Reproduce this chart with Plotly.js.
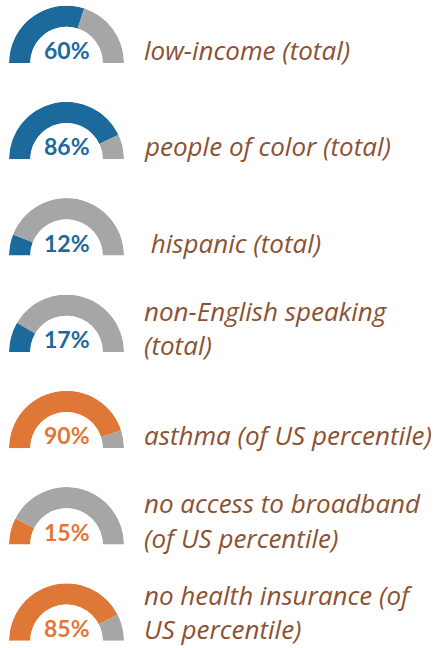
<!DOCTYPE html>
<html>
<head>
<meta charset="utf-8">
<script src="https://cdn.plot.ly/plotly-3.0.1.min.js"></script>
<style>html,body{margin:0;padding:0;background:#fff;}#chart{width:436px;height:648px;}</style>
</head>
<body>
<div id="chart"></div>
<script>
// ---- data ----
const categories = [
  'low-income (total)',
  'people of color (total)',
  ' hispanic (total)',
  'non-English speaking<br>(total)',
  'asthma (of US percentile)',
  'no access to broadband<br>(of US percentile)',
  'no health insurance (of<br>US percentile)'
];
const values = [60, 86, 12, 17, 90, 15, 85];
const groups = ['demographic', 'demographic', 'demographic', 'demographic', 'indicator', 'indicator', 'indicator'];

// ---- styling ----
const W = 436, H = 648;
const groupColor = { demographic: '#1b6a9b', indicator: '#df7736' };
const restColor = '#a6a6a6';
const labelColor = '#8b5232';
const cx = 66.5, R = 57.5, firstBottom = 63, rowStep = 96.3;
const labelX = 143, lineStep = 34, labelSize = 26;

const traces = [];
const annotations = [];
const layout = {
  width: W, height: H,
  margin: { l: 0, r: 0, t: 0, b: 0 },
  paper_bgcolor: '#ffffff',
  showlegend: false
};

values.forEach((v, i) => {
  const cy = firstBottom + i * rowStep;
  const col = groupColor[groups[i]];
  const pid = i === 0 ? 'polar' : 'polar' + (i + 1);
  const degV = v / 100 * 180;
  traces.push({
    type: 'barpolar',
    subplot: pid,
    r: [1, 1],
    theta: [degV / 2, degV + (180 - degV) / 2],
    width: [degV, 180 - degV],
    marker: { color: [col, restColor], line: { width: 0 } },
    hoverinfo: 'skip'
  });
  layout[pid] = {
    domain: {
      x: [(cx - R) / W, (cx + R) / W],
      y: [1 - cy / H, 1 - (cy - R) / H]
    },
    sector: [0, 180],
    hole: 0.63,
    bgcolor: 'rgba(0,0,0,0)',
    radialaxis: { visible: false, range: [0, 1] },
    angularaxis: { visible: false, rotation: 180, direction: 'clockwise' }
  };
  annotations.push({
    x: cx / W, y: 1 - (cy - 13) / H, xref: 'paper', yref: 'paper',
    xanchor: 'center', yanchor: 'middle', showarrow: false,
    text: v + '%',
    font: { family: 'Lato', size: 23, color: col, weight: 'bold' }
  });
  const lines = categories[i].split('<br>');
  // keep the label block inside the page
  const lastY = Math.min(cy - 7, H - 19);
  lines.forEach((ln, k) => {
    let yc;
    if (lines.length === 1) yc = cy - 13;
    else yc = lastY - (lines.length - 1 - k) * lineStep;
    annotations.push({
      x: labelX / W, y: 1 - yc / H, xref: 'paper', yref: 'paper',
      xanchor: 'left', yanchor: 'middle', showarrow: false, borderpad: 0,
      text: ln.replace(/^ /, '&nbsp;'),
      font: { family: 'Open Sans', size: labelSize, color: labelColor, style: 'italic' }
    });
  });
});
layout.annotations = annotations;

Plotly.newPlot('chart', traces, layout, { displayModeBar: false, staticPlot: true });
</script>
</body>
</html>
